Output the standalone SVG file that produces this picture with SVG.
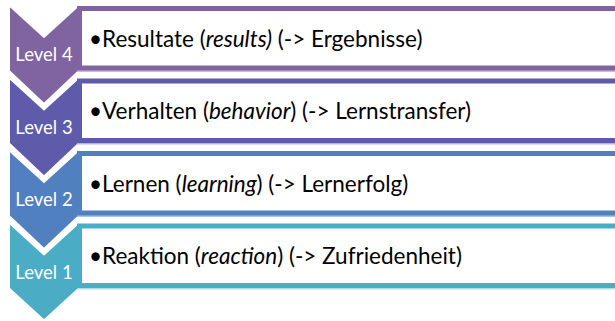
<svg xmlns="http://www.w3.org/2000/svg" width="615" height="321" viewBox="0 0 615 321">
  <style>
    .chev { stroke: #ffffff; stroke-width: 2; stroke-linejoin: miter; }
    .lvl { font-family: Lato, "Open Sans", sans-serif; font-size: 18.5px; fill: #ffffff; text-anchor: middle; }
    .box { fill: #ffffff; stroke-width: 5; }
    .glow { fill: none; stroke-width: 5; }
    .txt { font-family: Lato, "Open Sans", sans-serif; font-size: 22.5px; fill: #000000; }
    .it { font-style: italic; }
  </style>
  <rect width="615" height="321" fill="#ffffff"/>

  <!-- Level 4 -->
  <g id="level4">
    <polygon class="chev" fill="#8064A2" points="9,5 44,37 79,5 79,71 44,104 9,71"/>
    <rect class="glow" stroke="#C9BCDB" x="79.5" y="10" width="560" height="59.5"/>
    <rect class="box" stroke="#8064A2" x="79.5" y="8.5" width="560" height="59.5"/>
    <text class="lvl" x="44" y="61">Level 4</text>
    <text class="txt" x="89" y="46.5">•Resultate (<tspan class="it">results)</tspan> (-&gt; Ergebnisse)</text>
  </g>

  <!-- Level 3 -->
  <g id="level3">
    <polygon class="chev" fill="#5F5BAB" points="9,77.5 44,109.5 79,77.5 79,143.5 44,176.5 9,143.5"/>
    <rect class="glow" stroke="#B5B3DC" x="79.5" y="82.5" width="560" height="59.5"/>
    <rect class="box" stroke="#5F5BAB" x="79.5" y="81" width="560" height="59.5"/>
    <text class="lvl" x="44" y="133.5">Level 3</text>
    <text class="txt" x="89" y="119">•Verhalten (<tspan class="it">behavior</tspan>) (-&gt; Lernstransfer)</text>
  </g>

  <!-- Level 2 -->
  <g id="level2">
    <polygon class="chev" fill="#5080C0" points="9,150 44,182 79,150 79,216 44,249 9,216"/>
    <rect class="glow" stroke="#AFC4E3" x="79.5" y="155" width="560" height="59.5"/>
    <rect class="box" stroke="#5080C0" x="79.5" y="153.5" width="560" height="59.5"/>
    <text class="lvl" x="44" y="206">Level 2</text>
    <text class="txt" x="89" y="191.5">•Lernen (<tspan class="it">learning</tspan>) (-&gt; Lernerfolg)</text>
  </g>

  <!-- Level 1 -->
  <g id="level1">
    <polygon class="chev" fill="#4BACC6" points="9,222.5 44,254.5 79,222.5 79,288.5 44,320.5 9,288.5"/>
    <rect class="glow" stroke="#B0DCE8" x="79.5" y="227.5" width="560" height="59.5"/>
    <rect class="box" stroke="#4BACC6" x="79.5" y="226" width="560" height="59.5"/>
    <text class="lvl" x="44" y="278.5">Level 1</text>
    <text class="txt" x="89" y="264">•Reaktion (<tspan class="it">reaction</tspan>) (-&gt; Zufriedenheit)</text>
  </g>

  <g id="connectors"/>
</svg>
